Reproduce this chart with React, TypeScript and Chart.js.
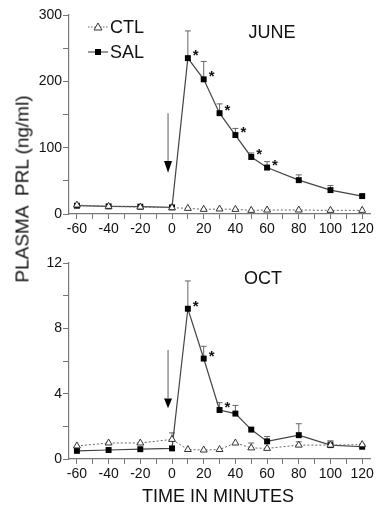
import React, { useEffect, useRef } from 'react';
import { Chart, registerables } from 'chart.js';

Chart.register(...registerables);

const FONT = '"Liberation Sans", Arial, Helvetica, sans-serif';

// Time points (minutes)
const MINUTES = [-60, -40, -20, 0, 10, 20, 30, 40, 50, 60, 80, 100, 120];

// JUNE panel
const JUNE_SAL = [12.5, 11.5, 11, 10, 235, 203, 152, 119, 86, 70, 51, 36, 27];
const JUNE_SAL_ERR = [0, 0, 0, 0, 41, 27, 14, 10, 6, 9, 8, 7, 2];
const JUNE_CTL = [13.5, 11.5, 10.5, 9.5, 8.5, 7, 7.5, 7, 5.5, 6, 6, 5.5, 5.5];
const JUNE_CTL_ERR = [0, 0, 0, 0, 0, 0, 0, 0, 0, 0, 0, 0, 0];
const JUNE_STARS = [10, 20, 30, 40, 50, 60];

// OCT panel
const OCT_SAL = [0.5, 0.55, 0.6, 0.65, 9.2, 6.15, 3.0, 2.78, 1.8, 1.08, 1.46, 0.85, 0.75];
const OCT_SAL_ERR = [0, 0, 0, 0, 1.7, 0.75, 0.45, 0.5, 0.1, 0.3, 0.7, 0.25, 0];
const OCT_CTL = [0.8, 0.98, 0.98, 1.2, 0.58, 0.55, 0.58, 0.98, 0.68, 0.65, 0.85, 0.85, 0.88];
const OCT_CTL_ERR = [0, 0, 0, 0.4, 0, 0, 0, 0, 0.3, 0, 0.2, 0.25, 0];
const OCT_STARS = [10, 20, 30];

// Axis tick settings
const X_MIN = -65;
const X_MAX = 125.5;
const JUNE_Y_MAX = 300;
const JUNE_Y_STEP = 50;
const JUNE_Y_LABEL_STEP = 100;
const OCT_Y_MAX = 12;
const OCT_Y_STEP = 2;
const OCT_Y_LABEL_STEP = 4;

// Injection arrow (x, top value, head start value, tip value)
const JUNE_ARROW = [-2.5, 152, 80, 62];
const OCT_ARROW = [-2.5, 6.67, 3.7, 3.1];

const SERIES_NAMES = ['CTL', 'SAL'];

const extrasPlugin = {
  id: 'extras',
  beforeDatasetsDraw(chart: any, _args: any, opts: any) {
    const { ctx, scales } = chart;
    const xs = scales.x, ys = scales.y;
    ctx.save();
    // error bars
    (opts.errors || []).forEach((e: any) => {
      ctx.strokeStyle = e.color;
      ctx.lineWidth = 1;
      e.err.forEach((v: number, i: number) => {
        if (!v) return;
        const x = xs.getPixelForValue(MINUTES[i]);
        const y0 = ys.getPixelForValue(e.vals[i]);
        const y1 = ys.getPixelForValue(e.vals[i] + v);
        ctx.beginPath();
        ctx.moveTo(x, y0);
        ctx.lineTo(x, y1);
        ctx.moveTo(x - 3, y1);
        ctx.lineTo(x + 3, y1);
        ctx.stroke();
      });
    });
    // arrow
    if (opts.arrow) {
      const [ax, top, head, tip] = opts.arrow;
      const x = xs.getPixelForValue(ax);
      const yT = ys.getPixelForValue(top);
      const yH = ys.getPixelForValue(head);
      const yP = ys.getPixelForValue(tip);
      ctx.strokeStyle = '#777';
      ctx.lineWidth = 1.2;
      ctx.beginPath();
      ctx.moveTo(x, yT);
      ctx.lineTo(x, yH);
      ctx.stroke();
      ctx.fillStyle = '#000';
      ctx.beginPath();
      ctx.moveTo(x - 4, yH);
      ctx.lineTo(x + 4, yH);
      ctx.lineTo(x, yP);
      ctx.closePath();
      ctx.fill();
    }
    ctx.restore();
  },
  afterDatasetsDraw(chart: any, _args: any, opts: any) {
    const { ctx, scales } = chart;
    const xs = scales.x, ys = scales.y;
    ctx.save();
    // asterisks
    ctx.fillStyle = '#111';
    ctx.font = `bold 15px ${FONT}`;
    ctx.textAlign = 'left';
    ctx.textBaseline = 'middle';
    (opts.stars || []).forEach((t: number) => {
      const i = MINUTES.indexOf(t);
      const x = xs.getPixelForValue(t);
      const y = ys.getPixelForValue(opts.starVals[i]);
      ctx.fillText('*', x + 5, y - 2);
    });
    // panel title
    if (opts.title) {
      ctx.font = `18px ${FONT}`;
      ctx.textAlign = 'center';
      ctx.fillStyle = '#111';
      ctx.fillText(opts.title[0], opts.title[1], opts.title[2]);
    }
    // legend
    if (opts.legend) {
      const lx0 = 88, lx1 = 108, mx = 98;
      const rows = [27, 52];
      ctx.font = `18px ${FONT}`;
      ctx.textAlign = 'left';
      ctx.textBaseline = 'middle';
      rows.forEach((ry, k) => {
        ctx.strokeStyle = k === 0 ? '#666' : '#333';
        ctx.lineWidth = 1;
        ctx.setLineDash(k === 0 ? [1.5, 1.5] : []);
        ctx.beginPath();
        ctx.moveTo(lx0, ry);
        ctx.lineTo(lx1, ry);
        ctx.stroke();
        ctx.setLineDash([]);
        if (k === 0) {
          ctx.fillStyle = '#fff';
          ctx.strokeStyle = '#333';
          ctx.beginPath();
          ctx.moveTo(mx, ry - 4);
          ctx.lineTo(mx + 4, ry + 3);
          ctx.lineTo(mx - 4, ry + 3);
          ctx.closePath();
          ctx.fill();
          ctx.stroke();
        } else {
          ctx.fillStyle = '#000';
          ctx.fillRect(mx - 3, ry - 3, 6, 6);
        }
        ctx.fillStyle = '#111';
        ctx.fillText(SERIES_NAMES[k], lx1 + 2, ry + 1);
      });
    }
    ctx.restore();
  },
};

function buildConfig(p: any) {
  const pts = (vals: number[]) => MINUTES.map((m, i) => ({ x: m, y: vals[i] }));
  return {
    type: 'line',
    data: {
      datasets: [
        {
          label: SERIES_NAMES[0],
          data: pts(p.ctl),
          borderColor: '#666',
          borderWidth: 1,
          borderDash: [2, 2],
          pointStyle: 'triangle',
          pointRadius: 4,
          pointBackgroundColor: '#fff',
          pointBorderColor: '#333',
          pointBorderWidth: 1,
          order: 0,
        },
        {
          label: SERIES_NAMES[1],
          data: pts(p.sal),
          borderColor: '#444',
          borderWidth: 1.2,
          pointStyle: 'rect',
          pointRadius: 4.2,
          pointBackgroundColor: '#000',
          pointBorderColor: '#000',
          pointBorderWidth: 0,
          order: 1,
        },
      ],
    },
    options: {
      responsive: false,
      animation: false,
      layout: { padding: { top: p.padTop, right: 5, left: 0, bottom: 0 } },
      plugins: {
        legend: { display: false },
        tooltip: { enabled: false },
        extras: {
          errors: [
            { vals: p.sal, err: p.salErr, color: '#666' },
            { vals: p.ctl, err: p.ctlErr, color: '#666' },
          ],
          arrow: p.arrow,
          stars: p.stars,
          starVals: p.sal.map((v: number, i: number) => v + 0 * i),
          title: p.title,
          legend: p.legend,
        },
      },
      scales: {
        x: {
          type: 'linear',
          min: X_MIN,
          max: X_MAX,
          ticks: {
            stepSize: 10,
            includeBounds: false,
            autoSkip: false,
            maxRotation: 0,
            padding: 2,
            color: '#111',
            font: { size: 14, family: FONT },
            callback: (v: number) => (v % 20 === 0 ? String(v) : ''),
          },
          grid: { drawOnChartArea: false, drawTicks: true, tickLength: 5, color: '#777' },
          border: { color: '#777', width: 1.2 },
          afterFit: (s: any) => {
            s.height = p.xHeight;
          },
        },
        y: {
          type: 'linear',
          min: 0,
          max: p.yMax,
          ticks: {
            stepSize: p.yStep,
            autoSkip: false,
            padding: 1,
            color: '#111',
            font: { size: 14, family: FONT },
            callback: (v: number) => (v % p.yLabelStep === 0 ? String(v) : ''),
          },
          grid: { drawOnChartArea: false, drawTicks: true, tickLength: 6, color: '#777' },
          border: { color: '#777', width: 1.2 },
          afterFit: (s: any) => {
            s.width = 69;
          },
        },
      },
    },
    plugins: [extrasPlugin],
  } as any;
}

function Panel(props: { top: number; height: number; cfg: any }) {
  const ref = useRef<HTMLCanvasElement>(null);
  useEffect(() => {
    if (!ref.current) return;
    const chart = new Chart(ref.current, buildConfig(props.cfg));
    return () => chart.destroy();
  }, []);
  return (
    <canvas
      ref={ref}
      width={376}
      height={props.height}
      style={{ position: 'absolute', left: 0, top: props.top, width: 376, height: props.height }}
    />
  );
}

export default function App() {
  return (
    <div style={{ position: 'absolute', left: 0, top: 0, width: 376, height: 506, background: '#fff', overflow: 'hidden', fontFamily: FONT }}>
      <Panel
        top={0}
        height={250}
        cfg={{
          sal: JUNE_SAL,
          salErr: JUNE_SAL_ERR,
          ctl: JUNE_CTL,
          ctlErr: JUNE_CTL_ERR,
          stars: JUNE_STARS,
          arrow: JUNE_ARROW,
          yMax: JUNE_Y_MAX,
          yStep: JUNE_Y_STEP,
          yLabelStep: JUNE_Y_LABEL_STEP,
          padTop: 15,
          xHeight: 36,
          title: ['JUNE', 272, 33],
          legend: true,
        }}
      />
      <Panel
        top={250}
        height={256}
        cfg={{
          sal: OCT_SAL,
          salErr: OCT_SAL_ERR,
          ctl: OCT_CTL,
          ctlErr: OCT_CTL_ERR,
          stars: OCT_STARS,
          arrow: OCT_ARROW,
          yMax: OCT_Y_MAX,
          yStep: OCT_Y_STEP,
          yLabelStep: OCT_Y_LABEL_STEP,
          padTop: 13,
          xHeight: 47,
          title: ['OCT', 263, 29],
          legend: false,
        }}
      />
      <div
        style={{
          position: 'absolute',
          left: 22,
          top: 189,
          transform: 'translate(-50%, -50%) rotate(-90deg)',
          whiteSpace: 'pre',
          fontSize: 19,
          color: '#111',
          lineHeight: 1,
        }}
      >
        {'PLASMA  PRL (ng/ml)'}
      </div>
      <div
        style={{
          position: 'absolute',
          left: 218,
          top: 496,
          transform: 'translate(-50%, -50%)',
          whiteSpace: 'nowrap',
          fontSize: 18,
          color: '#111',
          lineHeight: 1,
        }}
      >
        TIME IN MINUTES
      </div>
    </div>
  );
}
